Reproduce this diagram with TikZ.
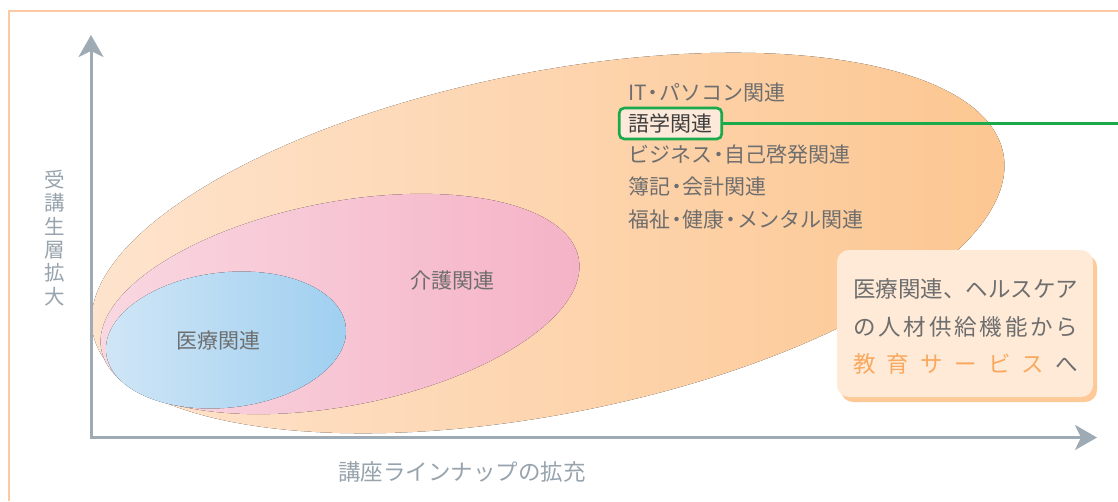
\documentclass[tikz,border=0pt]{standalone}
\usepackage{fontspec}
\setmainfont{Noto Sans CJK JP}
\usetikzlibrary{arrows.meta,shadows}
\definecolor{frameC}{HTML}{FDC9A2}
\definecolor{orL}{HTML}{FEE4CE}
\definecolor{orR}{HTML}{FCC690}
\definecolor{piL}{HTML}{F9D8E1}
\definecolor{piR}{HTML}{F5B2C6}
\definecolor{blL}{HTML}{D0E6F6}
\definecolor{blR}{HTML}{9FCFF0}
\definecolor{grayT}{HTML}{6E6E6E}
\definecolor{darkT}{HTML}{3E3E3E}
\definecolor{axisC}{HTML}{9EABB5}
\definecolor{axisT}{HTML}{97A3AD}
\definecolor{greenC}{HTML}{1AAA4C}
\definecolor{langF}{HTML}{FDE9DA}
\definecolor{callF}{HTML}{FEEAD7}
\definecolor{callS}{HTML}{FDC996}
\definecolor{orT}{HTML}{F9A85E}
\newcommand\nd{\makebox[0.6em]{・}}
\tikzset{
  lbl/.style={inner sep=0pt, text=grayT, font=\fontsize{21}{21}\selectfont},
  listlbl/.style={lbl, anchor=west},
  calllbl/.style={inner sep=0pt, text=grayT, anchor=west, font=\fontsize{22.5}{22.5}\selectfont},
  axislbl/.style={inner sep=0pt, text=axisT},
  axisline/.style={draw=axisC, line width=3pt,
    {Stealth[length=22pt,width=25pt,inset=6pt]}-{Stealth[length=22pt,width=25pt,inset=6pt]}},
}
\begin{document}
\begin{tikzpicture}[x=1pt,y=-1pt]
\useasboundingbox (0,0) rectangle (1118,501);
% frame
\draw[frameC, line width=1.2pt] (9,501) -- (9,11) -- (1118,11);
% ellipses
\fill[left color=orL, right color=orR, rotate around={11.15:(548,243)}]
  (548,243) ellipse [x radius=464pt, y radius=171pt];
\fill[left color=piL, right color=piR, rotate around={10.85:(340,304)}]
  (340,304) ellipse [x radius=243pt, y radius=102pt];
\fill[left color=blL, right color=blR, rotate around={6.27:(226,340)}]
  (226,340) ellipse [x radius=120.5pt, y radius=67.6pt];
% axes
\coordinate (Ytip) at (91,35);
\coordinate (O) at (91,437.5);
\coordinate (Xtip) at (1097,437.5);
\draw[axisline] (Ytip) -- (O) -- (Xtip);
\node[axislbl, align=center, font=\fontsize{20.5}{23.3}\selectfont] (ylab) at (55,238)
  {受\\講\\生\\層\\拡\\大};
\node[axislbl, font=\fontsize{22.5}{22.5}\selectfont] (xlab) at (462,472) {講座ラインナップの拡充};
% ellipse labels
\node[lbl] (med) at (218,340.5) {医療関連};
\node[lbl] (care) at (452,281) {介護関連};
% list
\node[listlbl] (it) at (628,93) {IT\nd パソコン関連};
\node[draw=greenC, line width=2.7pt, rounded corners=5pt, fill=langF, text=darkT,
  inner sep=0pt, minimum width=102.5pt, minimum height=31pt,
  font=\fontsize{21}{21}\selectfont] (lang) at (670.5,123.5) {語学関連};
\coordinate (gEnd) at (1118,123.5);
\draw[greenC, line width=2.7pt] (lang.east) -- (gEnd);
\node[listlbl] (biz) at (628,155) {ビジネス\nd 自己啓発関連};
\node[listlbl] (acc) at (628,187) {簿記\nd 会計関連};
\node[listlbl] (wel) at (628,220) {福祉\nd 健康\nd メンタル関連};
% callout
\node[fill=callF, rounded corners=12pt, minimum width=256pt, minimum height=147pt,
  inner sep=0pt,
  drop shadow={shadow xshift=4pt, shadow yshift=-5pt, fill=callS, opacity=1}] (call) at (965,323.5) {};
\node[calllbl] (c1) at (853,289) {\makebox[225pt][s]{医療関連、ヘルスケア}};
\node[calllbl] (c2) at (853,327) {\makebox[225pt][s]{の\hfill 人\hfill 材\hfill 供\hfill 給\hfill 機\hfill 能\hfill か\hfill ら}};
\node[calllbl] (c3) at (853,364) {\makebox[225pt][s]{\color{orT}教\hfill 育\hfill サ\hfill ー\hfill ビ\hfill ス\hfill\color{grayT}へ}};
\end{tikzpicture}
\end{document}
